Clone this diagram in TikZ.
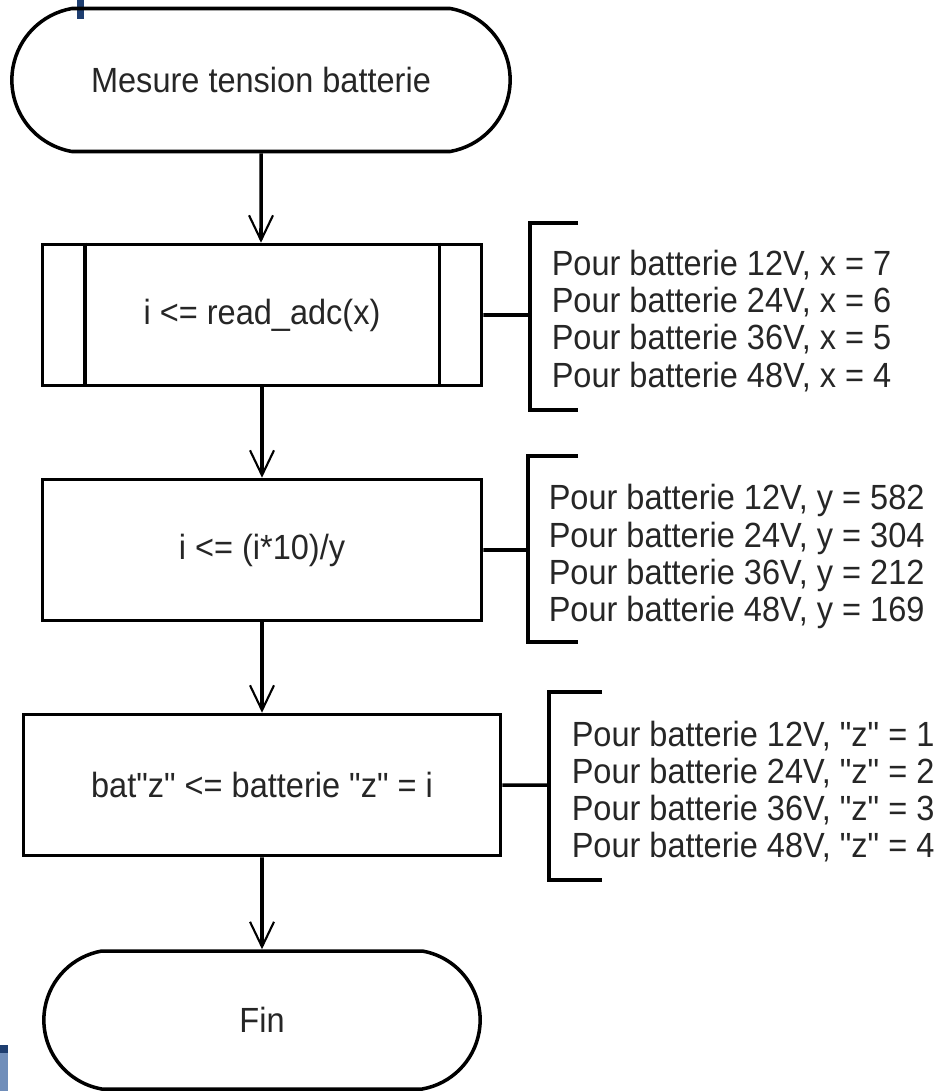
\documentclass[tikz,border=0pt]{standalone}
\usepackage{fontspec}
\setmainfont{Liberation Sans}[FakeStretch=0.93, Ligatures=TeXOff]
\usetikzlibrary{arrows.meta, shapes.misc}
\definecolor{bardark}{RGB}{30,62,112}
\definecolor{barlight}{RGB}{112,142,186}
\tikzstyle{every node}+=[font=\fontsize{19.9}{21.1}\selectfont, text=black!85]
\tikzstyle{term}=[rounded rectangle, rounded rectangle arc length=160, draw, minimum height=2.86cm]
\tikzstyle{proc}=[rectangle, draw, minimum width=8.78cm, minimum height=2.82cm]
\tikzstyle{note}=[align=left, anchor=west, inner sep=0pt]

\begin{document}
\begin{tikzpicture}[line width=2pt, node distance=4.7cm, >={Straight Barb[length=0.5cm, width=0.48cm, line width=1.2pt]}]
		\fill[white] (0,0) rectangle (18.84,-21.82);
		\useasboundingbox (0,0) rectangle (18.84,-21.82);
		\fill[bardark] (1.54,0) rectangle (1.68,-0.38);
		\fill[barlight] (0,-21.02) rectangle (0.16,-21.82);
		\fill[bardark] (0,-20.9) rectangle (0.16,-21.06);
		
		\node(start) [term, minimum width=10.2cm] at (5.22,-1.6) {Mesure tension batterie};
		\node(b1) [proc, below of = start, xshift=0.02cm] {i <= read\_adc(x)};
		\draw ([xshift=0.88cm]b1.north west) -- ([xshift=0.88cm]b1.south west);
		\draw ([xshift=-0.88cm]b1.north east) -- ([xshift=-0.88cm]b1.south east);
		\node(b2) [proc, below of = b1] {i <= (i*10)/y};
		\node(b3) [proc, below of = b2, minimum width=9.54cm] {bat"z" <= batterie "z" = i};
		\node(fin) [term, below of = b3, minimum width=8.96cm, minimum height=2.76cm] {Fin};
		
		\draw[->] (start) -- (start |- b1.north);
		\draw[->] (b1) -- (b2);
		\draw[->] (b2) -- (b3);
		\draw[->] (b3) -- (fin);
		
		\node(t1) [note] at (11.0,-6.42) {Pour batterie 12V, x = 7\\Pour batterie 24V, x = 6\\Pour batterie 36V, x = 5\\Pour batterie 48V, x = 4};
		\coordinate (k1) at (10.6,-6.3);
		\draw (11.56,-4.46) -- (10.6,-4.46) -- (10.6,-8.2) -- (11.56,-8.2);
		\draw (b1.east) -- (k1);
		
		\node(t2) [note] at (10.94,-11.13) {Pour batterie 12V, y = 582\\Pour batterie 24V, y = 304\\Pour batterie 36V, y = 212\\Pour batterie 48V, y = 169};
		\coordinate (k2) at (10.56,-11.0);
		\draw (11.56,-9.12) -- (10.56,-9.12) -- (10.56,-12.84) -- (11.56,-12.84);
		\draw (b2.east) -- (k2);
		
		\node(t3) [note] at (11.4,-15.83) {Pour batterie 12V, "z" = 1\\Pour batterie 24V, "z" = 2\\Pour batterie 36V, "z" = 3\\Pour batterie 48V, "z" = 4};
		\coordinate (k3) at (10.98,-15.7);
		\draw (12.04,-13.84) -- (10.98,-13.84) -- (10.98,-17.6) -- (12.04,-17.6);
		\draw (b3.east) -- (k3);
		
\end{tikzpicture}
\end{document}
